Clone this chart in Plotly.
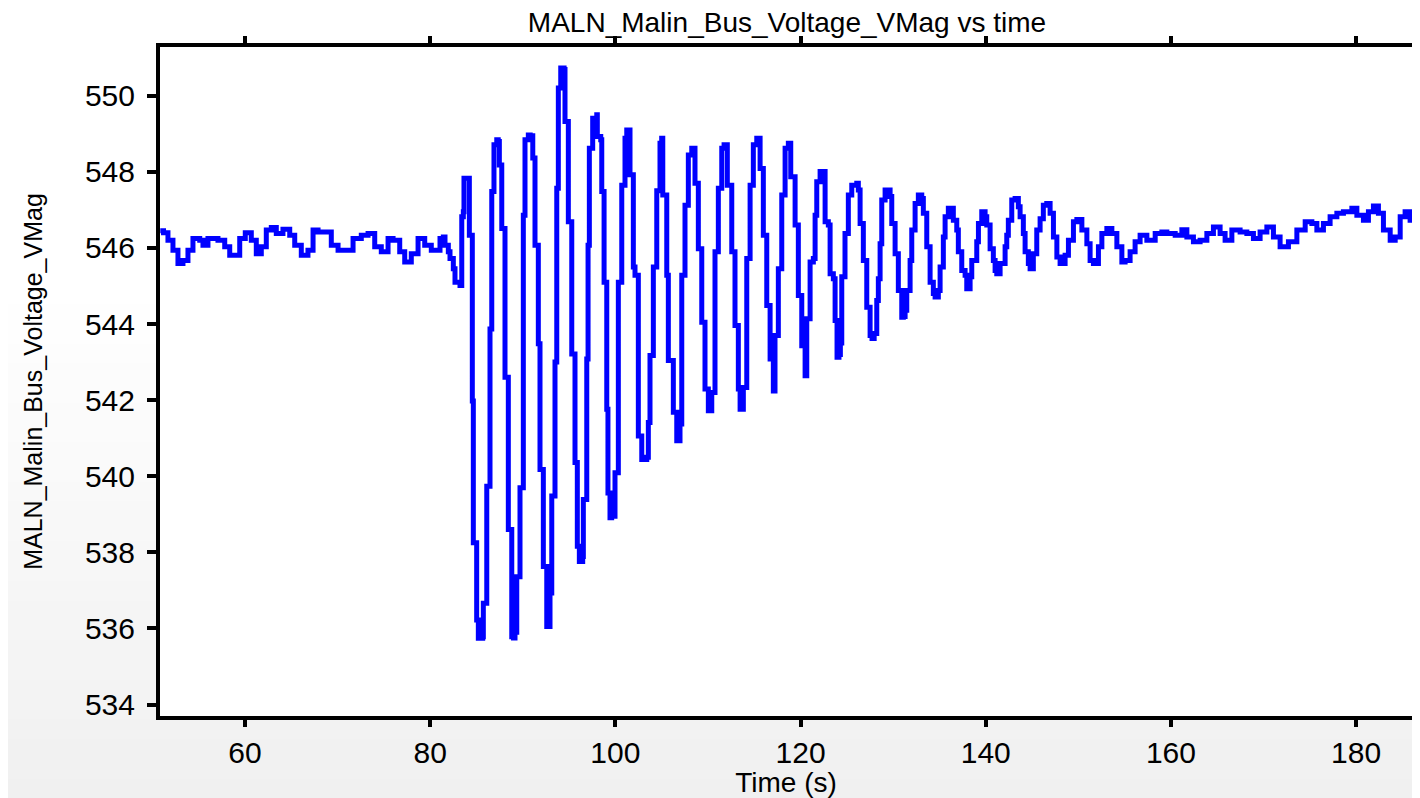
import plotly.graph_objects as go

# time (s) and bus voltage magnitude (kV)
time_s = [
    50.85, 51.20, 51.68, 52.22, 52.76, 53.30, 53.84, 54.38, 55.11, 55.46, 56.00, 57.08, 57.81, 58.35, 58.89,
    59.43, 60.03, 60.68, 61.22, 61.76, 62.30, 62.84, 63.38, 64.10, 64.83, 65.37, 66.08, 66.80, 67.35, 67.89,
    68.61, 69.32, 70.05, 70.94, 71.67, 72.56, 73.29, 74.01, 74.72, 75.45, 75.99, 76.71, 77.25, 77.96, 78.69,
    79.41, 80.12, 80.66, 81.06, 81.42, 81.60, 81.96, 82.14, 82.50, 82.68, 83.22, 83.41,
    # disturbance
    83.41, 83.58, 83.65, 84.12, 84.23, 84.55, 84.55, 84.66, 84.66, 85.02, 85.02, 85.20, 85.67, 85.74, 86.11,
    86.11, 86.46, 86.46, 86.65, 86.65, 86.89, 86.89, 87.19, 87.35, 87.47, 87.73, 87.73, 88.08, 88.08, 88.44,
    88.44, 88.81, 88.81, 89.00, 89.16, 89.35, 89.70, 89.70, 90.06, 90.06, 90.24, 90.24, 90.60, 90.80, 91.08,
    91.32, 91.32, 91.68, 91.68, 91.86, 91.86, 92.22, 92.22, 92.59, 92.59, 92.80, 92.94, 93.13, 93.13, 93.48,
    93.48, 93.67, 93.67, 93.84, 93.84, 94.10, 94.46, 94.56, 94.92, 94.92, 95.29, 95.29, 95.64, 95.64, 95.89,
    95.89, 96.11, 96.47, 96.54, 96.91, 96.91, 97.05, 97.05, 97.19, 97.19, 97.55, 97.99, 98.05, 98.42, 98.53,
    98.78, 98.78, 99.07, 99.07, 99.20, 99.20, 99.42, 99.60, 99.96, 100.32, 100.32, 100.69, 100.69, 101.04, 101.23,
    101.58, 101.58, 101.94, 101.94, 102.12, 102.48, 102.48, 102.85, 102.85, 103.09, 103.39, 103.56, 103.74, 103.74, 104.10,
    104.10, 104.47, 104.47, 104.82, 104.82, 105.00, 105.12, 105.12, 105.55, 105.55, 105.72, 105.72, 106.26, 106.26, 106.63,
    106.63, 106.98, 106.98, 107.17, 107.17, 107.52, 107.52, 107.88, 107.88, 108.25, 108.60, 108.60, 108.96, 108.96, 109.33,
    109.33, 109.68, 109.68, 110.04, 110.04, 110.41, 110.41, 110.76, 110.76, 111.12, 111.12, 111.49, 111.49, 111.74, 112.09,
    112.09, 112.57, 112.57, 112.92, 112.92, 113.28, 113.28, 113.47, 113.47, 113.82, 113.82, 114.19, 114.19, 114.55, 114.55,
    114.90, 114.90, 115.27, 115.63, 115.63, 115.98, 115.98, 116.35, 116.35, 116.71, 116.71, 117.06, 117.06, 117.24, 117.24,
    117.60, 117.60, 117.97, 117.97, 118.33, 118.33, 118.68, 118.94, 118.94, 119.41, 119.41, 119.76, 119.76, 120.13, 120.13,
    120.49, 120.49, 120.67, 120.67, 121.03, 121.03, 121.38, 121.57, 121.75, 121.75, 122.11, 122.65, 122.65, 123.00, 123.19,
    123.54, 123.73, 123.94, 124.15, 124.30, 124.45, 124.45, 124.80, 124.80, 125.16, 125.16, 125.53, 126.07, 126.24, 126.43,
    126.78, 126.78, 127.15, 127.15, 127.51, 127.51, 127.72, 127.95, 128.23, 128.40, 128.59, 128.77, 128.77, 129.13, 129.48,
    129.67, 129.85, 130.21, 130.21, 130.56, 130.56, 130.93, 130.93, 131.10, 131.29, 131.47, 131.83, 132.01, 132.37, 132.72,
    133.09, 133.26, 133.63, 133.99, 134.34, 134.53, 134.88, 135.07, 135.42, 135.61, 135.96, 136.33, 136.50, 136.87, 137.04,
    137.41, 137.77, 137.95, 138.31, 138.49, 139.03, 139.21, 139.57, 139.93, 140.11, 140.47, 140.82, 141.01, 141.19, 141.55,
    142.09, 142.27, 142.44, 142.81, 143.17, 143.52, 143.71, 144.06, 144.25, 144.60, 144.79, 145.14, 145.51, 145.87, 146.22,
    146.59, 146.95, 147.31, 147.68, 148.03, 148.57, 148.93, 149.47, 149.84, 150.38, 150.92, 151.27, 151.63, 152.17, 152.54,
    153.08, 153.62, 154.16, 154.70, 155.05, 155.59, 156.13, 156.67, 157.40, 158.30, 159.02, 159.56, 160.46, 161.18, 161.72,
    162.43, 163.15, 163.88, 164.59, 165.31, 165.85, 166.58, 167.47, 168.20, 168.91, 169.63, 170.36, 171.07, 171.79, 172.69,
    173.60, 174.50, 175.22, 175.76, 176.47, 177.19, 177.92, 178.63, 179.54, 180.08, 180.79, 181.33, 181.87, 182.41, 182.95,
    183.68, 184.22, 184.76, 185.29, 185.83, 186.56, 186.91, 187.30,
]

vmag = [
    546.45, 546.40, 546.20, 545.94, 545.59, 545.67, 545.94, 546.25, 546.20, 546.07, 546.25, 546.20, 546.03, 545.81, 545.81,
    546.25, 546.40, 546.20, 545.85, 546.03, 546.47, 546.54, 546.38, 546.49, 546.33, 546.07, 545.81, 545.94, 546.47, 546.42,
    546.42, 546.07, 545.94, 545.94, 546.25, 546.33, 546.38, 546.03, 545.90, 546.25, 546.20, 545.90, 545.63, 545.85, 546.25,
    546.07, 545.94, 545.94, 546.25, 546.29, 546.07, 545.90, 545.72, 545.45, 545.10, 545.01, 545.54,
    # disturbance
    546.82, 546.95, 547.83, 547.83, 546.33, 546.07, 541.98, 541.50, 538.25, 537.98, 536.22, 535.74, 535.78, 536.66, 536.84,
    539.74, 540.18, 543.87, 544.31, 547.48, 547.60, 548.71, 548.84, 548.80, 548.18, 548.10, 546.51, 546.16, 542.60, 542.11,
    538.60, 538.33, 535.78, 535.75, 535.90, 537.36, 537.50, 539.70, 540.00, 546.86, 547.12, 548.84, 548.97, 548.95, 548.36,
    548.31, 546.07, 545.90, 543.48, 543.17, 540.18, 539.92, 537.63, 537.36, 536.05, 536.05, 536.93, 537.00, 539.48, 539.83,
    543.00, 543.08, 547.57, 547.87, 550.20, 550.73, 550.69, 549.32, 549.06, 546.69, 546.25, 543.21, 542.90, 540.36, 540.09,
    538.16, 537.76, 537.89, 539.39, 539.74, 543.08, 543.30, 546.07, 546.33, 548.62, 549.41, 549.50, 548.93, 548.84, 547.48,
    547.30, 545.10, 544.75, 541.76, 541.50, 539.56, 538.91, 538.95, 540.09, 540.22, 545.10, 545.37, 547.65, 548.88, 549.10,
    549.06, 547.92, 547.74, 545.50, 545.28, 545.10, 541.06, 540.90, 540.44, 540.44, 540.50, 541.41, 541.58, 543.17, 543.34,
    545.50, 545.80, 547.50, 547.65, 548.75, 548.88, 548.80, 547.39, 547.21, 545.28, 545.10, 543.04, 542.86, 541.68, 541.50,
    540.93, 540.95, 541.37, 541.58, 545.28, 545.54, 547.12, 547.26, 548.44, 548.62, 548.53, 547.70, 547.57, 545.98, 545.85,
    544.05, 543.92, 542.29, 542.10, 541.72, 541.75, 542.20, 542.38, 545.90, 546.03, 547.57, 547.70, 548.62, 548.71, 548.62,
    547.65, 547.52, 545.90, 545.72, 543.96, 543.78, 542.29, 542.10, 541.76, 541.80, 542.33, 542.47, 545.72, 545.90, 547.65,
    547.83, 548.71, 548.88, 548.80, 548.09, 547.96, 546.33, 546.16, 544.49, 544.31, 543.08, 542.90, 542.24, 542.30, 543.70,
    543.87, 545.45, 545.63, 547.39, 547.57, 548.62, 548.75, 548.67, 547.87, 547.74, 546.60, 546.47, 544.75, 544.58, 543.43,
    543.30, 542.64, 542.70, 544.14, 544.27, 545.63, 545.72, 546.86, 546.95, 547.74, 548.01, 548.01, 546.69, 546.60, 545.32,
    545.19, 544.09, 543.13, 543.20, 543.50, 544.10, 545.24, 545.41, 546.38, 546.51, 547.39, 547.65, 547.70, 547.52, 546.64,
    546.51, 545.67, 545.50, 544.44, 544.31, 543.70, 543.62, 543.75, 544.62, 545.19, 546.11, 546.25, 547.26, 547.52, 547.52,
    547.35, 546.64, 546.47, 545.85, 545.67, 544.88, 544.71, 544.18, 544.20, 544.36, 544.88, 545.67, 546.47, 547.17, 547.39,
    547.30, 546.91, 546.03, 545.10, 544.80, 544.71, 544.88, 545.50, 546.29, 546.82, 547.04, 547.04, 546.73, 546.47, 545.90,
    545.41, 545.28, 544.93, 545.24, 545.67, 546.16, 546.64, 546.95, 546.82, 546.60, 545.98, 545.67, 545.41, 545.32, 545.59,
    546.03, 546.33, 546.73, 547.26, 547.30, 547.08, 546.82, 546.38, 545.90, 545.59, 545.45, 545.85, 546.47, 546.77, 547.12,
    547.17, 546.91, 546.29, 545.76, 545.59, 545.81, 546.20, 546.69, 546.75, 546.47, 546.11, 545.67, 545.59, 546.03, 546.38,
    546.51, 546.38, 546.03, 545.63, 545.67, 545.90, 546.16, 546.33, 546.20, 546.38, 546.42, 546.38, 546.33, 546.48, 546.29,
    546.16, 546.20, 546.38, 546.55, 546.38, 546.20, 546.47, 546.42, 546.38, 546.25, 546.42, 546.55, 546.29, 546.03, 546.16,
    546.47, 546.69, 546.64, 546.47, 546.64, 546.82, 546.91, 546.95, 547.04, 546.86, 546.73, 546.95, 547.10, 546.91, 546.47,
    546.20, 546.29, 546.82, 546.95, 546.73, 546.38, 546.29, 546.25,
]

x_ticks = [60, 80, 100, 120, 140, 160, 180]
y_ticks = [534, 536, 538, 540, 542, 544, 546, 548, 550]

font = "Liberation Sans, Arial, sans-serif"

# the page body adds an 8px margin round the figure
W, H = 1404, 790
ml, mt, mb = 152, 39, 82
plot_h = H - mt - mb
px_per_s = 9.2593
x_range = [50.82, 50.82 + (W - ml) / px_per_s]

# the recorder draws the channel as a staircase
fig = go.Figure(go.Scatter(x=time_s, y=vmag, mode="lines",
                           line=dict(color="#0000ff", width=5, shape="hv")))

# light grey gradient (white at top, grey towards bottom), white plot area on top
shapes = []
n = 40
y_top, y_bot = 1 + mt / plot_h, -mb / plot_h
for i in range(n):
    f = (i + 0.5) / n
    g = 255 if f < 0.35 else int(round(255 - 15 * (f - 0.35) / 0.65))
    y0 = y_top - (y_top - y_bot) * i / n
    y1 = y_top - (y_top - y_bot) * (i + 1) / n
    shapes.append(dict(type="rect", xref="paper", yref="paper", x0=-0.13, x1=1.0,
                       y0=y1 - 0.002, y1=y0, fillcolor=f"rgb({g},{g},{g})",
                       line=dict(width=0), layer="below"))
shapes.append(dict(type="rect", xref="paper", yref="paper", x0=0, x1=1, y0=0, y1=1,
                   fillcolor="white", line=dict(width=0), layer="below"))

fig.update_layout(
    width=W, height=H,
    margin=dict(l=ml, r=0, t=mt, b=mb),
    paper_bgcolor="white", plot_bgcolor="white",
    showlegend=False,
    shapes=shapes,
    font=dict(family=font, color="black"),
    title=dict(text="MALN_Malin_Bus_Voltage_VMag vs time", x=(787 - 8) / W, xanchor="center",
               y=1 - 14 / H, yanchor="middle", font=dict(size=28, family=font)),
)
fig.update_xaxes(range=x_range, tickvals=x_ticks, ticks="outside", ticklen=7,
                 tickwidth=3.5, tickcolor="black", showline=True, linewidth=4, linecolor="black",
                 mirror="ticks", showgrid=False, zeroline=False, tickfont=dict(size=30),
                 ticklabelstandoff=0, automargin=False,
                 title=dict(text="Time (s)", font=dict(size=28), standoff=8))
fig.update_yaxes(range=[533.7, 551.28], tickvals=y_ticks, ticks="outside", ticklen=9,
                 tickwidth=3.5, tickcolor="black", showline=True, linewidth=4, linecolor="black",
                 showgrid=False, zeroline=False, tickfont=dict(size=30), ticklabelstandoff=6,
                 automargin=False,
                 title=dict(text="MALN_Malin_Bus_Voltage_VMag", font=dict(size=25), standoff=36))

fig.write_html("out.html")
